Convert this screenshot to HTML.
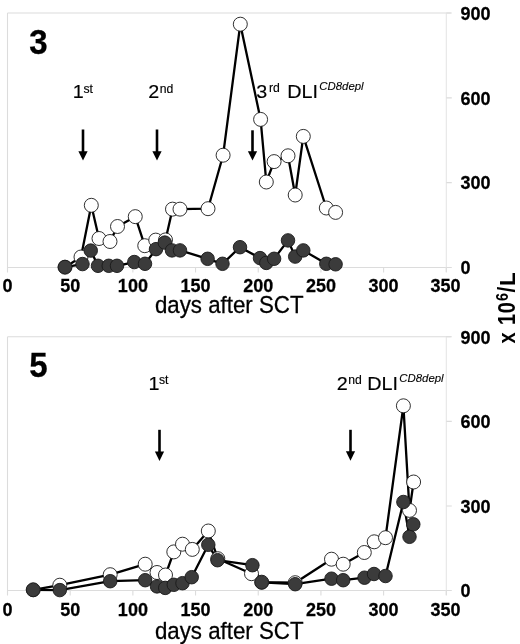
<!DOCTYPE html>
<html><head><meta charset="utf-8"><title>chart</title>
<style>
html,body{margin:0;padding:0;background:#fff}
body{width:520px;height:644px;overflow:hidden}
svg{display:block}
text{font-family:"Liberation Sans",Arial,sans-serif;fill:#000}
.bd{font-size:18px;font-weight:bold;stroke:#000;stroke-width:0.25px}
.rb{font-size:23px;font-weight:bold}
.rsup{font-size:16px;font-weight:bold}
.big{font-size:34.5px;font-weight:bold;stroke:#000;stroke-width:0.3px}
.ax{font-size:22.3px;stroke:#000;stroke-width:0.25px}
.an{font-size:19px;stroke:#000;stroke-width:0.15px}
.sup{font-size:12.2px;stroke:#000;stroke-width:0.15px}
.it{font-size:11.4px;font-style:italic;stroke:#000;stroke-width:0.1px}
</style></head><body>
<svg width="520" height="644" viewBox="0 0 520 644">
<rect width="520" height="644" fill="#fff"/>
<path d="M7.5 13 H450.8 M7.5 13 V272 M7.5 267.5 H450.8" stroke="#dcdcdc" stroke-width="1.1" fill="none"/>
<path d="M446.3 13 V272" stroke="#e6e6e6" stroke-width="1.1" fill="none"/>
<path d="M7.5 267.5 v5 M70.1857 267.5 v5 M132.871 267.5 v5 M195.557 267.5 v5 M258.243 267.5 v5 M320.929 267.5 v5 M383.614 267.5 v5 M446.3 267.5 v5 M446.3 13 h5.5 M446.3 97.8333 h5.5 M446.3 182.667 h5.5 M446.3 267.5 h5.5 " stroke="#dcdcdc" stroke-width="1.1" fill="none"/>
<path d="M7.5 336.8 H450.8 M7.5 336.8 V595 M7.5 590.5 H450.8" stroke="#dcdcdc" stroke-width="1.1" fill="none"/>
<path d="M446.3 336.8 V595" stroke="#e6e6e6" stroke-width="1.1" fill="none"/>
<path d="M7.5 590.5 v5 M70.1857 590.5 v5 M132.871 590.5 v5 M195.557 590.5 v5 M258.243 590.5 v5 M320.929 590.5 v5 M383.614 590.5 v5 M446.3 590.5 v5 M446.3 336.8 h5.5 M446.3 421.367 h5.5 M446.3 505.933 h5.5 M446.3 590.5 h5.5 " stroke="#dcdcdc" stroke-width="1.1" fill="none"/>
<text transform="translate(7.5,291.8) scale(1,1.07)" text-anchor="middle" class="bd">0</text><text transform="translate(70.1857,291.8) scale(1,1.07)" text-anchor="middle" class="bd">50</text><text transform="translate(132.871,291.8) scale(1,1.07)" text-anchor="middle" class="bd">100</text><text transform="translate(195.557,291.8) scale(1,1.07)" text-anchor="middle" class="bd">150</text><text transform="translate(258.243,291.8) scale(1,1.07)" text-anchor="middle" class="bd">200</text><text transform="translate(320.929,291.8) scale(1,1.07)" text-anchor="middle" class="bd">250</text><text transform="translate(383.614,291.8) scale(1,1.07)" text-anchor="middle" class="bd">300</text><text transform="translate(445.5,291.8) scale(1,1.07)" text-anchor="middle" class="bd">350</text>
<text transform="translate(7.5,615.6) scale(1,1.07)" text-anchor="middle" class="bd">0</text><text transform="translate(70.1857,615.6) scale(1,1.07)" text-anchor="middle" class="bd">50</text><text transform="translate(132.871,615.6) scale(1,1.07)" text-anchor="middle" class="bd">100</text><text transform="translate(195.557,615.6) scale(1,1.07)" text-anchor="middle" class="bd">150</text><text transform="translate(258.243,615.6) scale(1,1.07)" text-anchor="middle" class="bd">200</text><text transform="translate(320.929,615.6) scale(1,1.07)" text-anchor="middle" class="bd">250</text><text transform="translate(383.614,615.6) scale(1,1.07)" text-anchor="middle" class="bd">300</text><text transform="translate(445.5,615.6) scale(1,1.07)" text-anchor="middle" class="bd">350</text>
<text transform="translate(460.4,19.8) scale(1,1.07)" text-anchor="start" class="bd">900</text><text transform="translate(460.4,104.633) scale(1,1.07)" text-anchor="start" class="bd">600</text><text transform="translate(460.4,189.467) scale(1,1.07)" text-anchor="start" class="bd">300</text><text transform="translate(460.4,274.3) scale(1,1.07)" text-anchor="start" class="bd">0</text>
<text transform="translate(460.4,343.6) scale(1,1.07)" text-anchor="start" class="bd">900</text><text transform="translate(460.4,428.167) scale(1,1.07)" text-anchor="start" class="bd">600</text><text transform="translate(460.4,512.733) scale(1,1.07)" text-anchor="start" class="bd">300</text><text transform="translate(460.4,597.3) scale(1,1.07)" text-anchor="start" class="bd">0</text>
<text transform="translate(29.3,53.9) scale(0.96,1.03)" text-anchor="start" class="big">3</text><text transform="translate(29.3,377.3) scale(0.96,1.03)" text-anchor="start" class="big">5</text>
<text transform="translate(229.2,312.8) scale(1,1.09)" text-anchor="middle" class="ax">days after SCT</text><text transform="translate(229.2,638.8) scale(1,1.09)" text-anchor="middle" class="ax">days after SCT</text>
<text transform="translate(72.8,98.1) scale(1.04,1)" text-anchor="start" class="an">1</text><text transform="translate(83.4,92.7) scale(1,1)" text-anchor="start" class="sup">st</text>
<text transform="translate(148.2,98.1) scale(1.04,1)" text-anchor="start" class="an">2</text><text transform="translate(159.8,92.7) scale(1,1)" text-anchor="start" class="sup">nd</text>
<text transform="translate(256.3,97.7) scale(1.04,1)" text-anchor="start" class="an">3</text><text transform="translate(268.9,92.3) scale(1,1)" text-anchor="start" class="sup">rd</text><text transform="translate(287.2,97.7) scale(1.04,1)" text-anchor="start" class="an">DLI</text><text transform="translate(319.3,89.6) scale(1,1)" text-anchor="start" class="it">CD8depl</text>
<text transform="translate(148.4,389.8) scale(1.04,1)" text-anchor="start" class="an">1</text><text transform="translate(159,384.4) scale(1,1)" text-anchor="start" class="sup">st</text>
<text transform="translate(336.7,389.8) scale(1.04,1)" text-anchor="start" class="an">2</text><text transform="translate(348.3,384.4) scale(1,1)" text-anchor="start" class="sup">nd</text><text transform="translate(367.2,389.8) scale(1.04,1)" text-anchor="start" class="an">DLI</text><text transform="translate(399.3,381.6) scale(1,1)" text-anchor="start" class="it">CD8depl</text>
<path d="M83 129.5 V152.6" stroke="#000" stroke-width="2.6" fill="none"/><path d="M78.4 151.2 h9.2 l-4.6 9.4z" fill="#000"/>
<path d="M157 129.5 V152.6" stroke="#000" stroke-width="2.6" fill="none"/><path d="M152.4 151.2 h9.2 l-4.6 9.4z" fill="#000"/>
<path d="M252.5 130.3 V152.6" stroke="#000" stroke-width="2.6" fill="none"/><path d="M247.9 151.2 h9.2 l-4.6 9.4z" fill="#000"/>
<path d="M159.5 429.8 V452.9" stroke="#000" stroke-width="2.6" fill="none"/><path d="M154.9 451.5 h9.2 l-4.6 9.4z" fill="#000"/>
<path d="M350.5 429.8 V452.7" stroke="#000" stroke-width="2.6" fill="none"/><path d="M345.9 451.3 h9.2 l-4.6 9.4z" fill="#000"/>
<g transform="translate(514.9,342.8) rotate(-90)"><text transform="translate(-0.6,0) scale(0.87,1)" class="rb">x</text><text transform="translate(17.7,0) scale(0.87,1)" class="rb">1</text><text transform="translate(29.6,0) scale(0.87,1)" class="rb">0</text><text transform="translate(41.8,-6.9) scale(0.9,1)" class="rsup">6</text><text transform="translate(50.3,0) scale(0.9,1)" class="rb">/</text><text transform="translate(56.7,0) scale(0.97,1)" class="rb">L</text></g>
<polyline fill="none" stroke="#000" stroke-width="2.3" stroke-linejoin="round" points="65,267.2 81,257 91.3,205.3 99,238.5 110,241.5 117.5,226.5 135.25,216.65 144.75,245.7 155.75,240.1 165.5,239.9 172.5,209.15 180,209.15 208,208.7 223.1,155.2 240.3,24.2 260.6,119.4 266.3,182 274.1,161.6 288,155.8 295.2,195 303.3,136.4 326.3,208 335.6,212.4"/>
<polyline fill="none" stroke="#000" stroke-width="2.3" stroke-linejoin="round" points="65,267.05 82.5,264.05 90.75,250.6 98,265.8 108.75,265.8 117,265.8 134.3,262.05 145,263.8 156,249.15 164.8,242.6 172,250.4 180,250.4 207.6,258.8 222.5,263.8 240,247.2 260,258.1 266.3,262.9 274.1,258.8 288,240.4 295.2,256.6 303.3,250.4 326.3,263.8 335.6,264.3"/>
<circle cx="65" cy="267.2" r="7" fill="#fff" stroke="#1a1a1a" stroke-width="0.9"/>
<circle cx="81" cy="257" r="7" fill="#fff" stroke="#1a1a1a" stroke-width="0.9"/>
<circle cx="91.3" cy="205.3" r="7" fill="#fff" stroke="#1a1a1a" stroke-width="0.9"/>
<circle cx="99" cy="238.5" r="7" fill="#fff" stroke="#1a1a1a" stroke-width="0.9"/>
<circle cx="110" cy="241.5" r="7" fill="#fff" stroke="#1a1a1a" stroke-width="0.9"/>
<circle cx="117.5" cy="226.5" r="7" fill="#fff" stroke="#1a1a1a" stroke-width="0.9"/>
<circle cx="135.25" cy="216.65" r="7" fill="#fff" stroke="#1a1a1a" stroke-width="0.9"/>
<circle cx="144.75" cy="245.7" r="7" fill="#fff" stroke="#1a1a1a" stroke-width="0.9"/>
<circle cx="155.75" cy="240.1" r="7" fill="#fff" stroke="#1a1a1a" stroke-width="0.9"/>
<circle cx="165.5" cy="239.9" r="7" fill="#fff" stroke="#1a1a1a" stroke-width="0.9"/>
<circle cx="172.5" cy="209.15" r="7" fill="#fff" stroke="#1a1a1a" stroke-width="0.9"/>
<circle cx="180" cy="209.15" r="7" fill="#fff" stroke="#1a1a1a" stroke-width="0.9"/>
<circle cx="208" cy="208.7" r="7" fill="#fff" stroke="#1a1a1a" stroke-width="0.9"/>
<circle cx="223.1" cy="155.2" r="7" fill="#fff" stroke="#1a1a1a" stroke-width="0.9"/>
<circle cx="240.3" cy="24.2" r="7" fill="#fff" stroke="#1a1a1a" stroke-width="0.9"/>
<circle cx="260.6" cy="119.4" r="7" fill="#fff" stroke="#1a1a1a" stroke-width="0.9"/>
<circle cx="266.3" cy="182" r="7" fill="#fff" stroke="#1a1a1a" stroke-width="0.9"/>
<circle cx="274.1" cy="161.6" r="7" fill="#fff" stroke="#1a1a1a" stroke-width="0.9"/>
<circle cx="288" cy="155.8" r="7" fill="#fff" stroke="#1a1a1a" stroke-width="0.9"/>
<circle cx="295.2" cy="195" r="7" fill="#fff" stroke="#1a1a1a" stroke-width="0.9"/>
<circle cx="303.3" cy="136.4" r="7" fill="#fff" stroke="#1a1a1a" stroke-width="0.9"/>
<circle cx="326.3" cy="208" r="7" fill="#fff" stroke="#1a1a1a" stroke-width="0.9"/>
<circle cx="335.6" cy="212.4" r="7" fill="#fff" stroke="#1a1a1a" stroke-width="0.9"/>
<circle cx="65" cy="267.05" r="6.75" fill="#3b3b3b" stroke="#1a1a1a" stroke-width="0.9"/>
<circle cx="82.5" cy="264.05" r="6.75" fill="#3b3b3b" stroke="#1a1a1a" stroke-width="0.9"/>
<circle cx="90.75" cy="250.6" r="6.75" fill="#3b3b3b" stroke="#1a1a1a" stroke-width="0.9"/>
<circle cx="98" cy="265.8" r="6.75" fill="#3b3b3b" stroke="#1a1a1a" stroke-width="0.9"/>
<circle cx="108.75" cy="265.8" r="6.75" fill="#3b3b3b" stroke="#1a1a1a" stroke-width="0.9"/>
<circle cx="117" cy="265.8" r="6.75" fill="#3b3b3b" stroke="#1a1a1a" stroke-width="0.9"/>
<circle cx="134.3" cy="262.05" r="6.75" fill="#3b3b3b" stroke="#1a1a1a" stroke-width="0.9"/>
<circle cx="145" cy="263.8" r="6.75" fill="#3b3b3b" stroke="#1a1a1a" stroke-width="0.9"/>
<circle cx="156" cy="249.15" r="6.75" fill="#3b3b3b" stroke="#1a1a1a" stroke-width="0.9"/>
<circle cx="164.8" cy="242.6" r="6.75" fill="#3b3b3b" stroke="#1a1a1a" stroke-width="0.9"/>
<circle cx="172" cy="250.4" r="6.75" fill="#3b3b3b" stroke="#1a1a1a" stroke-width="0.9"/>
<circle cx="180" cy="250.4" r="6.75" fill="#3b3b3b" stroke="#1a1a1a" stroke-width="0.9"/>
<circle cx="207.6" cy="258.8" r="6.75" fill="#3b3b3b" stroke="#1a1a1a" stroke-width="0.9"/>
<circle cx="222.5" cy="263.8" r="6.75" fill="#3b3b3b" stroke="#1a1a1a" stroke-width="0.9"/>
<circle cx="240" cy="247.2" r="6.75" fill="#3b3b3b" stroke="#1a1a1a" stroke-width="0.9"/>
<circle cx="260" cy="258.1" r="6.75" fill="#3b3b3b" stroke="#1a1a1a" stroke-width="0.9"/>
<circle cx="266.3" cy="262.9" r="6.75" fill="#3b3b3b" stroke="#1a1a1a" stroke-width="0.9"/>
<circle cx="274.1" cy="258.8" r="6.75" fill="#3b3b3b" stroke="#1a1a1a" stroke-width="0.9"/>
<circle cx="288" cy="240.4" r="6.75" fill="#3b3b3b" stroke="#1a1a1a" stroke-width="0.9"/>
<circle cx="295.2" cy="256.6" r="6.75" fill="#3b3b3b" stroke="#1a1a1a" stroke-width="0.9"/>
<circle cx="303.3" cy="250.4" r="6.75" fill="#3b3b3b" stroke="#1a1a1a" stroke-width="0.9"/>
<circle cx="326.3" cy="263.8" r="6.75" fill="#3b3b3b" stroke="#1a1a1a" stroke-width="0.9"/>
<circle cx="335.6" cy="264.3" r="6.75" fill="#3b3b3b" stroke="#1a1a1a" stroke-width="0.9"/>
<polyline fill="none" stroke="#000" stroke-width="2.3" stroke-linejoin="round" points="33.2,589.8 59.8,585.2 110.2,574.7 145.2,564.2 157,572.5 165.5,575 173.8,551.9 182.5,544.2 192.3,549.4 208.3,531 217.8,558.7 251.5,573.7 261.7,582.2 295.2,582.7 331.5,559.2 343.2,564.2 364.3,552.5 374.2,541.8 385.5,537.7 403.4,405.8 409.5,510.4 413.6,482"/>
<polyline fill="none" stroke="#000" stroke-width="2.3" stroke-linejoin="round" points="33.2,589.9 59.8,590.1 110.2,581.2 145.2,580.2 157,586.4 165.2,587.9 173.8,584.8 182.5,583.2 191.7,577.2 208.3,544.8 217.5,560.2 252.4,565.2 261.7,582.4 295.2,584.2 331.5,578.7 343.2,580.2 364.5,577.7 374,574 385.5,576 403.4,502 409.5,536.8 413.3,524.3"/>
<circle cx="33.2" cy="589.8" r="7" fill="#fff" stroke="#1a1a1a" stroke-width="0.9"/>
<circle cx="59.8" cy="585.2" r="7" fill="#fff" stroke="#1a1a1a" stroke-width="0.9"/>
<circle cx="110.2" cy="574.7" r="7" fill="#fff" stroke="#1a1a1a" stroke-width="0.9"/>
<circle cx="145.2" cy="564.2" r="7" fill="#fff" stroke="#1a1a1a" stroke-width="0.9"/>
<circle cx="157" cy="572.5" r="7" fill="#fff" stroke="#1a1a1a" stroke-width="0.9"/>
<circle cx="165.5" cy="575" r="7" fill="#fff" stroke="#1a1a1a" stroke-width="0.9"/>
<circle cx="173.8" cy="551.9" r="7" fill="#fff" stroke="#1a1a1a" stroke-width="0.9"/>
<circle cx="182.5" cy="544.2" r="7" fill="#fff" stroke="#1a1a1a" stroke-width="0.9"/>
<circle cx="192.3" cy="549.4" r="7" fill="#fff" stroke="#1a1a1a" stroke-width="0.9"/>
<circle cx="208.3" cy="531" r="7" fill="#fff" stroke="#1a1a1a" stroke-width="0.9"/>
<circle cx="217.8" cy="558.7" r="7" fill="#fff" stroke="#1a1a1a" stroke-width="0.9"/>
<circle cx="251.5" cy="573.7" r="7" fill="#fff" stroke="#1a1a1a" stroke-width="0.9"/>
<circle cx="261.7" cy="582.2" r="7" fill="#fff" stroke="#1a1a1a" stroke-width="0.9"/>
<circle cx="295.2" cy="582.7" r="7" fill="#fff" stroke="#1a1a1a" stroke-width="0.9"/>
<circle cx="331.5" cy="559.2" r="7" fill="#fff" stroke="#1a1a1a" stroke-width="0.9"/>
<circle cx="343.2" cy="564.2" r="7" fill="#fff" stroke="#1a1a1a" stroke-width="0.9"/>
<circle cx="364.3" cy="552.5" r="7" fill="#fff" stroke="#1a1a1a" stroke-width="0.9"/>
<circle cx="374.2" cy="541.8" r="7" fill="#fff" stroke="#1a1a1a" stroke-width="0.9"/>
<circle cx="385.5" cy="537.7" r="7" fill="#fff" stroke="#1a1a1a" stroke-width="0.9"/>
<circle cx="403.4" cy="405.8" r="7" fill="#fff" stroke="#1a1a1a" stroke-width="0.9"/>
<circle cx="409.5" cy="510.4" r="7" fill="#fff" stroke="#1a1a1a" stroke-width="0.9"/>
<circle cx="413.6" cy="482" r="7" fill="#fff" stroke="#1a1a1a" stroke-width="0.9"/>
<circle cx="33.2" cy="589.9" r="6.75" fill="#3b3b3b" stroke="#1a1a1a" stroke-width="0.9"/>
<circle cx="59.8" cy="590.1" r="6.75" fill="#3b3b3b" stroke="#1a1a1a" stroke-width="0.9"/>
<circle cx="110.2" cy="581.2" r="6.75" fill="#3b3b3b" stroke="#1a1a1a" stroke-width="0.9"/>
<circle cx="145.2" cy="580.2" r="6.75" fill="#3b3b3b" stroke="#1a1a1a" stroke-width="0.9"/>
<circle cx="157" cy="586.4" r="6.75" fill="#3b3b3b" stroke="#1a1a1a" stroke-width="0.9"/>
<circle cx="165.2" cy="587.9" r="6.75" fill="#3b3b3b" stroke="#1a1a1a" stroke-width="0.9"/>
<circle cx="173.8" cy="584.8" r="6.75" fill="#3b3b3b" stroke="#1a1a1a" stroke-width="0.9"/>
<circle cx="182.5" cy="583.2" r="6.75" fill="#3b3b3b" stroke="#1a1a1a" stroke-width="0.9"/>
<circle cx="191.7" cy="577.2" r="6.75" fill="#3b3b3b" stroke="#1a1a1a" stroke-width="0.9"/>
<circle cx="208.3" cy="544.8" r="6.75" fill="#3b3b3b" stroke="#1a1a1a" stroke-width="0.9"/>
<circle cx="217.5" cy="560.2" r="6.75" fill="#3b3b3b" stroke="#1a1a1a" stroke-width="0.9"/>
<circle cx="252.4" cy="565.2" r="6.75" fill="#3b3b3b" stroke="#1a1a1a" stroke-width="0.9"/>
<circle cx="261.7" cy="582.4" r="6.75" fill="#3b3b3b" stroke="#1a1a1a" stroke-width="0.9"/>
<circle cx="295.2" cy="584.2" r="6.75" fill="#3b3b3b" stroke="#1a1a1a" stroke-width="0.9"/>
<circle cx="331.5" cy="578.7" r="6.75" fill="#3b3b3b" stroke="#1a1a1a" stroke-width="0.9"/>
<circle cx="343.2" cy="580.2" r="6.75" fill="#3b3b3b" stroke="#1a1a1a" stroke-width="0.9"/>
<circle cx="364.5" cy="577.7" r="6.75" fill="#3b3b3b" stroke="#1a1a1a" stroke-width="0.9"/>
<circle cx="374" cy="574" r="6.75" fill="#3b3b3b" stroke="#1a1a1a" stroke-width="0.9"/>
<circle cx="385.5" cy="576" r="6.75" fill="#3b3b3b" stroke="#1a1a1a" stroke-width="0.9"/>
<circle cx="403.4" cy="502" r="6.75" fill="#3b3b3b" stroke="#1a1a1a" stroke-width="0.9"/>
<circle cx="409.5" cy="536.8" r="6.75" fill="#3b3b3b" stroke="#1a1a1a" stroke-width="0.9"/>
<circle cx="413.3" cy="524.3" r="6.75" fill="#3b3b3b" stroke="#1a1a1a" stroke-width="0.9"/>
</svg>
</body></html>
